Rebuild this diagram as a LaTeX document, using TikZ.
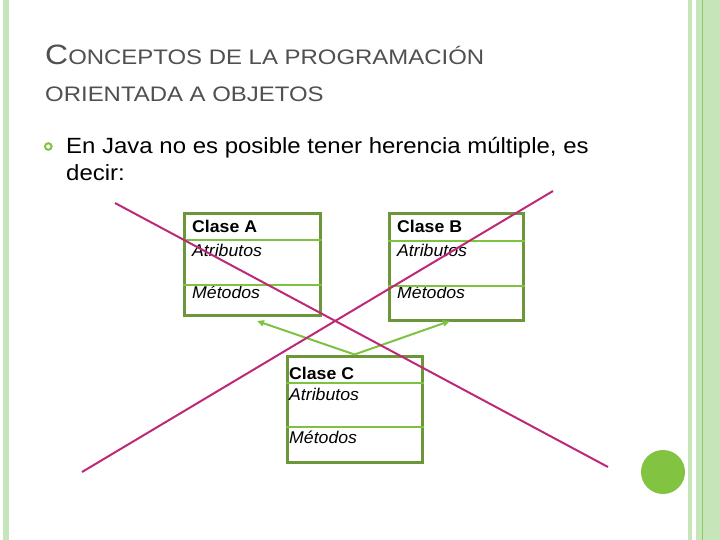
\documentclass[tikz,border=0pt]{standalone}
\usepackage{fontspec}
\setmainfont{Liberation Sans}
\newfontfamily\titlefont[FakeStretch=1.14]{Liberation Sans}
\newfontfamily\bodyfont[FakeStretch=1.09]{Liberation Sans}
\newfontfamily\boxfont[FakeStretch=1.04]{Liberation Sans}
\usetikzlibrary{arrows.meta,calc}
\definecolor{barlight}{RGB}{198,230,186}
\definecolor{barline}{RGB}{140,200,110}
\definecolor{dotgreen}{RGB}{130,195,65}
\definecolor{boxgreen}{RGB}{108,150,58}
\definecolor{divgreen}{RGB}{125,195,65}
\definecolor{crossmag}{RGB}{190,40,120}
\definecolor{titlegray}{RGB}{80,80,80}
\tikzset{
  classbox/.style={draw=boxgreen, line width=3pt, fill=none, inner sep=0pt},
  divider/.style={draw=divgreen, line width=2pt},
  inherit/.style={draw=divgreen, line width=2pt, -{Triangle[length=7pt,width=6pt]}},
  cross/.style={draw=crossmag, line width=2pt},
  lbl/.style={anchor=base west, inner sep=0pt, font=\boxfont\fontsize{17}{17}\selectfont},
  lblb/.style={lbl, font=\boxfont\bfseries\fontsize{17}{17}\selectfont},
  lbli/.style={lbl, font=\boxfont\itshape\fontsize{17}{17}\selectfont},
  txt/.style={anchor=base west, inner sep=0pt}
}
\begin{document}
\begin{tikzpicture}[x=1pt,y=-1pt]
\useasboundingbox (0,0) rectangle (720,540);
\fill[white] (0,0) rectangle (720,540);
% side bars
\fill[barlight] (3,0) rectangle (9,540);
\fill[barlight] (688,0) rectangle (692,540);
\fill[barlight] (696,0) rectangle (720,540);
\draw[barline, line width=1pt] (702,0) -- (702,540);
% circle
\fill[dotgreen] (663,472) circle (22);
% title
\node[txt, text=titlegray] (t1) at (45,65) {\titlefont{\fontsize{28}{28}\selectfont C}{\fontsize{21}{21}\selectfont ONCEPTOS DE LA PROGRAMACIÓN}};
\node[txt, text=titlegray] (t2) at (45,101.5) {\titlefont\fontsize{21}{21}\selectfont ORIENTADA A OBJETOS};
% bullet
\draw[dotgreen, line width=2pt] (48.3,146.5) circle (3.3);
\node[txt] (b1) at (66,154) {\bodyfont\fontsize{22}{22}\selectfont En Java no es posible tener herencia múltiple, es};
\node[txt] (b2) at (66,181) {\bodyfont\fontsize{22}{22}\selectfont decir:};
% boxes
\node[classbox, minimum width=136pt, minimum height=101pt] (A) at (252,264.5) {};
\node[classbox, minimum width=134pt, minimum height=106pt] (B) at (456,267) {};
\node[classbox, minimum width=135pt, minimum height=106pt] (C) at (354.5,409) {};
% labels
\node[lblb] (Aname) at (192,233) {Clase A};
\node[lbli] (Aattr) at (192,256) {Atributos};
\node[lbli] (Ameth) at (192,298) {Métodos};
\node[lblb] (Bname) at (397,233) {Clase B};
\node[lbli] (Battr) at (397,256) {Atributos};
\node[lbli] (Bmeth) at (397,298) {Métodos};
\node[lblb] (Cname) at (289,379) {Clase C};
\node[lbli] (Cattr) at (289,400) {Atributos};
\node[lbli] (Cmeth) at (289,443) {Métodos};
% dividers
\draw[divider] ($(A.north west)+(0,27.5)$) -- ($(A.north east)+(0,27.5)$);
\draw[divider] ($(A.north west)+(0,72.5)$) -- ($(A.north east)+(0,72.5)$);
\draw[divider] ($(B.north west)+(0,28)$) -- ($(B.north east)+(0,28)$);
\draw[divider] ($(B.north west)+(0,73)$) -- ($(B.north east)+(0,73)$);
\draw[divider] ($(C.north west)+(0,28)$) -- ($(C.north east)+(0,28)$);
\draw[divider] ($(C.north west)+(0,72)$) -- ($(C.north east)+(0,72)$);
% inheritance arrows
\coordinate (ea) at (257,321);
\coordinate (eb) at (450,321);
\draw[inherit] (C.north) -- (ea);
\draw[inherit] (C.north) -- (eb);
% crossing lines
\coordinate (x1s) at (115,203);
\coordinate (x1e) at (608,467);
\coordinate (x2s) at (553,191);
\coordinate (x2e) at (82,472);
\draw[cross] (x1s) -- (x1e);
\draw[cross] (x2s) -- (x2e);
\end{tikzpicture}
\end{document}
